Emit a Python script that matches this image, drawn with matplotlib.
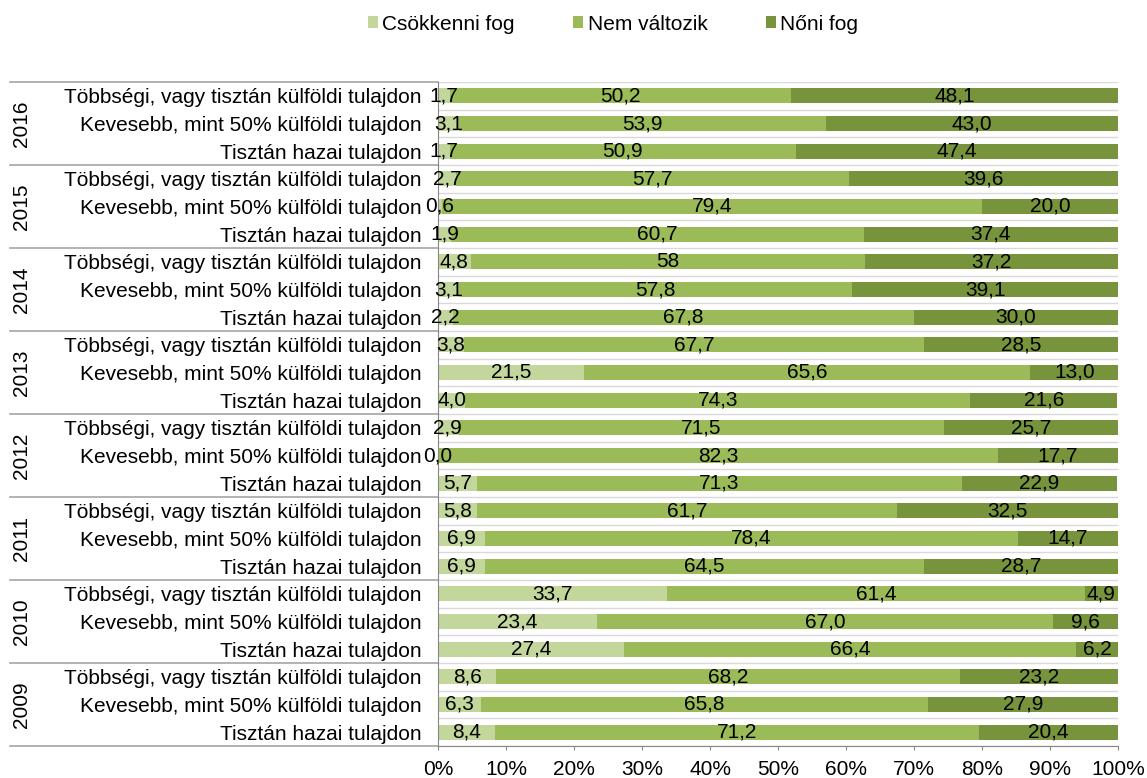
import matplotlib
matplotlib.use("Agg")
import matplotlib.pyplot as plt
import matplotlib.transforms as mtransforms
from matplotlib.patches import Patch

plt.rcParams['font.family'] = ['Liberation Sans', 'DejaVu Sans']

years = ["2016", "2015", "2014", "2013", "2012", "2011", "2010", "2009"]
categories = ["Többségi, vagy tisztán külföldi tulajdon",
              "Kevesebb, mint 50% külföldi tulajdon",
              "Tisztán hazai tulajdon"]
series_names = ["Csökkenni fog", "Nem változik", "Nőni fog"]

# rows top to bottom: (year, category) order
csokken = [1.7, 3.1, 1.7,  2.7, 0.6, 1.9,  4.8, 3.1, 2.2,  3.8, 21.5, 4.0,
           2.9, 0.0, 5.7,  5.8, 6.9, 6.9,  33.7, 23.4, 27.4,  8.6, 6.3, 8.4]
nem_valt = [50.2, 53.9, 50.9,  57.7, 79.4, 60.7,  58.0, 57.8, 67.8,  67.7, 65.6, 74.3,
            71.5, 82.3, 71.3,  61.7, 78.4, 64.5,  61.4, 67.0, 66.4,  68.2, 65.8, 71.2]
noni = [48.1, 43.0, 47.4,  39.6, 20.0, 37.4,  37.2, 39.1, 30.0,  28.5, 13.0, 21.6,
        25.7, 17.7, 22.9,  32.5, 14.7, 28.7,  4.9, 9.6, 6.2,  23.2, 27.9, 20.4]
# data labels as printed
lbl_csokken = ["1,7", "3,1", "1,7", "2,7", "0,6", "1,9", "4,8", "3,1", "2,2", "3,8", "21,5", "4,0",
               "2,9", "0,0", "5,7", "5,8", "6,9", "6,9", "33,7", "23,4", "27,4", "8,6", "6,3", "8,4"]
lbl_nem = ["50,2", "53,9", "50,9", "57,7", "79,4", "60,7", "58", "57,8", "67,8", "67,7", "65,6", "74,3",
           "71,5", "82,3", "71,3", "61,7", "78,4", "64,5", "61,4", "67,0", "66,4", "68,2", "65,8", "71,2"]
lbl_noni = ["48,1", "43,0", "47,4", "39,6", "20,0", "37,4", "37,2", "39,1", "30,0", "28,5", "13,0", "21,6",
            "25,7", "17,7", "22,9", "32,5", "14,7", "28,7", "4,9", "9,6", "6,2", "23,2", "27,9", "20,4"]
xticks = [0, 10, 20, 30, 40, 50, 60, 70, 80, 90, 100]
xticklabels = ["0%", "10%", "20%", "30%", "40%", "50%", "60%", "70%", "80%", "90%", "100%"]

colors = ["#C3D69B", "#9BBB59", "#77933C"]
FS = 15

W, H = 1147, 778
fig = plt.figure(figsize=(W / 100, H / 100), dpi=100)
left, right, top, bottom = 438, 1118, 82, 746
ax = fig.add_axes([left / W, 1 - bottom / H, (right - left) / W, (bottom - top) / H])

n = len(csokken)
ypos = list(range(n))
bh = 0.55
seriesvals = [csokken, nem_valt, noni]
labels = [lbl_csokken, lbl_nem, lbl_noni]
lefts = [0.0] * n
for vals, col, lbls in zip(seriesvals, colors, labels):
    ax.barh(ypos, vals, left=lefts, height=bh, color=col, edgecolor='none', zorder=2)
    for i in range(n):
        ax.text(lefts[i] + vals[i] / 2, ypos[i], lbls[i], ha='center', va='center',
                fontsize=FS, color='black', zorder=4)
    lefts = [a + b for a, b in zip(lefts, vals)]

ax.set_xlim(0, 100)
ax.set_ylim(n - 0.5, -0.5)

# horizontal separators between rows within plot area
for k in range(n + 1):
    ax.axhline(k - 0.5, color='#D9D9D9', lw=1, zorder=1)

ax.set_xticks(xticks)
ax.set_xticklabels(xticklabels, fontsize=FS)
ax.tick_params(axis='x', length=3, color='#868686', pad=7, direction='out')
ax.set_yticks(ypos)
ax.set_yticklabels([categories[i % 3] for i in range(n)], fontsize=FS)
ax.tick_params(axis='y', length=0, pad=12)

for s in ['top', 'right']:
    ax.spines[s].set_visible(False)
ax.spines['left'].set_color('#868686')
ax.spines['bottom'].set_color('#868686')

trans = mtransforms.blended_transform_factory(ax.transAxes, ax.transData)
x0 = (10 - left) / (right - left)
for g in range(len(years) + 1):
    yb = g * 3 - 0.5
    ax.plot([x0, 0], [yb, yb], transform=trans, color='#A6A6A6', lw=1.2,
            clip_on=False, zorder=1)
xyear = (21 - left) / (right - left)
for g, yr in enumerate(years):
    ax.text(xyear, g * 3 + 1, yr, transform=trans, rotation=90, ha='center',
            va='center', fontsize=FS)

handles = [Patch(facecolor=c, edgecolor='none') for c in colors]
fig.legend(handles, series_names, loc='center', bbox_to_anchor=(613 / W, 1 - 24 / H),
           ncol=3, frameon=False, fontsize=FS, handlelength=0.5, handleheight=0.5,
           handletextpad=0.2, columnspacing=2.8)

fig.savefig("out.png", dpi=100)
